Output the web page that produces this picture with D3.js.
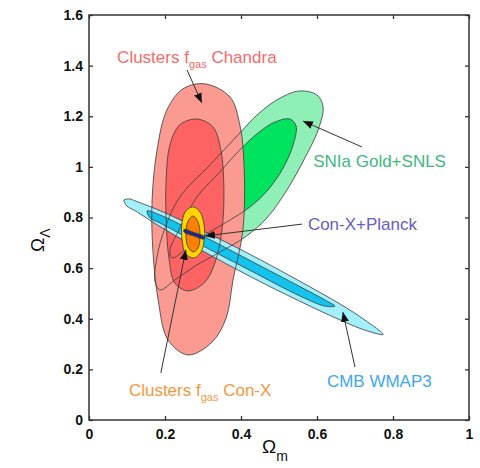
<!DOCTYPE html>
<html>
<head>
<meta charset="utf-8">
<script src="https://cdn.jsdelivr.net/npm/d3@7"></script>
<style>
body { margin: 0; background: #fff; }
text { font-family: Arial, "Liberation Sans", Helvetica, sans-serif; }
</style>
</head>
<body>
<svg width="480" height="468"></svg>
<script>
// tick values
var xTicks = [0, 0.2, 0.4, 0.6, 0.8, 1];
var yTicks = [0, 0.2, 0.4, 0.6, 0.8, 1, 1.2, 1.4, 1.6];

// confidence contours, [Omega_m, Omega_Lambda]
var snOuter = [[0.555,1.300],[0.600,1.284],[0.616,1.237],[0.603,1.146],[0.568,1.035],[0.521,0.909],
  [0.468,0.798],[0.411,0.723],[0.345,0.664],[0.279,0.608],[0.226,0.553],[0.187,0.514],[0.174,0.545],
  [0.179,0.644],[0.200,0.759],[0.239,0.881],[0.318,1.007],[0.397,1.134],[0.445,1.209],[0.503,1.272]];
var snInner = [[0.529,1.189],[0.545,1.161],[0.537,1.086],[0.511,0.996],[0.471,0.909],[0.424,0.842],
  [0.371,0.790],[0.305,0.731],[0.253,0.672],[0.218,0.640],[0.213,0.672],[0.234,0.743],[0.284,0.881],
  [0.337,0.968],[0.397,1.067],[0.445,1.134],[0.489,1.177]];
var clOuter = [[0.305,1.328],[0.371,1.276],[0.397,1.166],[0.408,1.008],[0.405,0.751],[0.379,0.553],
  [0.361,0.403],[0.324,0.308],[0.261,0.257],[0.208,0.316],[0.182,0.474],[0.168,0.672],[0.166,0.869],
  [0.179,1.067],[0.205,1.225],[0.247,1.308]];
var clInner = [[0.284,1.189],[0.326,1.158],[0.347,1.067],[0.355,0.909],[0.350,0.751],[0.332,0.624],
  [0.305,0.545],[0.261,0.510],[0.226,0.541],[0.211,0.632],[0.203,0.790],[0.203,0.948],[0.213,1.087],
  [0.239,1.166]];
var cmbOuter = [[0.092,0.869],[0.108,0.873],[0.121,0.866],[0.187,0.827],[0.292,0.753],[0.424,0.654],
  [0.555,0.548],[0.661,0.458],[0.726,0.395],[0.774,0.338],[0.726,0.355],[0.661,0.395],[0.555,0.469],
  [0.424,0.567],[0.292,0.674],[0.187,0.764],[0.121,0.827],[0.100,0.845]];
var cmbInner = [[0.153,0.826],[0.187,0.810],[0.292,0.733],[0.424,0.630],[0.555,0.527],[0.621,0.474],
  [0.647,0.450],[0.621,0.450],[0.555,0.490],[0.424,0.591],[0.292,0.694],[0.187,0.778],[0.161,0.798]];
var cxOuter = [[0.274,0.842],[0.292,0.822],[0.303,0.770],[0.303,0.711],[0.295,0.664],[0.276,0.640],
  [0.255,0.656],[0.245,0.711],[0.245,0.782],[0.255,0.826]];
var cxInner = [[0.274,0.806],[0.287,0.782],[0.292,0.731],[0.287,0.680],[0.274,0.664],[0.261,0.683],
  [0.255,0.735],[0.261,0.786]];
var cxPlanck = [[0.250,0.753],[0.276,0.741],[0.303,0.725],[0.303,0.715],[0.276,0.727],[0.250,0.743]];

// annotation labels
var labelMain = ["Clusters f", "SNIa Gold+SNLS", "Con-X+Planck", "CMB WMAP3", "Clusters f"];
var labelSub  = ["gas", "", "", "", "gas"];
var labelTail = [" Chandra", "", "", "", " Con-X"];
var labelPos  = [[0.074,1.41],[0.59,1.0],[0.576,0.75],[0.626,0.13],[0.105,0.095]];
var labelColor = ["#f86a6a", "#3dba7c", "#6a5bc9", "#3ea8f4", "#f8963c"];
var arrowFrom = [[0.258,1.383],[0.718,1.079],[0.561,0.774],[0.700,0.209],[0.189,0.186]];
var arrowTo   = [[0.297,1.252],[0.563,1.181],[0.305,0.727],[0.668,0.427],[0.255,0.672]];

var svg = d3.select("svg");
var x = d3.scaleLinear().domain([0, 1]).range([89, 469]);
var y = d3.scaleLinear().domain([0, 1.6]).range([420, 15]);

var shape = d3.line()
  .x(function(d) { return x(d[0]); })
  .y(function(d) { return y(d[1]); })
  .curve(d3.curveCatmullRomClosed.alpha(0.5));

svg.append("defs").append("marker")
  .attr("id", "head")
  .attr("viewBox", "0 -4 10 8")
  .attr("markerUnits", "userSpaceOnUse")
  .attr("markerWidth", 10)
  .attr("markerHeight", 8)
  .attr("refX", 10)
  .attr("refY", 0)
  .attr("orient", "auto")
  .append("path")
  .attr("d", "M0,-4L10,0L0,4Z")
  .attr("fill", "#111");

var plot = svg.append("g");

// big contours: fills first, outlines on top of everything
var big = [
  [snOuter, "#8ef0b6"], [snInner, "#00e35f"],
  [clOuter, "#fb9a91"], [clInner, "#fd6363"],
  [cmbOuter, "#a2f0fb"], [cmbInner, "#12c3ee"]
];
plot.append("g").selectAll("path")
  .data(big).enter().append("path")
  .attr("d", function(d) { return shape(d[0]); })
  .attr("fill", function(d) { return d[1]; });
plot.append("g").selectAll("path")
  .data(big).enter().append("path")
  .attr("d", function(d) { return shape(d[0]); })
  .attr("fill", "none")
  .attr("stroke", "#3a3a3a")
  .attr("stroke-width", 0.8);

var conx = [[cxOuter, "#ffd400"], [cxInner, "#ff7f00"], [cxPlanck, "#1b2a8c"]];
plot.append("g").selectAll("path")
  .data(conx).enter().append("path")
  .attr("d", function(d) { return shape(d[0]); })
  .attr("fill", function(d) { return d[1]; })
  .attr("stroke", "#3a3a3a")
  .attr("stroke-width", 0.8);

// arrows
plot.append("g").selectAll("line")
  .data(arrowFrom).enter().append("line")
  .attr("x1", function(d) { return x(d[0]); })
  .attr("y1", function(d) { return y(d[1]); })
  .attr("x2", function(d, i) { return x(arrowTo[i][0]); })
  .attr("y2", function(d, i) { return y(arrowTo[i][1]); })
  .attr("stroke", "#333")
  .attr("stroke-width", 1)
  .attr("marker-end", "url(#head)");

// labels
var lab = plot.append("g").selectAll("text")
  .data(labelMain).enter().append("text")
  .attr("x", function(d, i) { return x(labelPos[i][0]); })
  .attr("y", function(d, i) { return y(labelPos[i][1]); })
  .attr("fill", function(d, i) { return labelColor[i]; })
  .attr("font-size", 17);
lab.append("tspan").text(function(d) { return d; });
lab.append("tspan")
  .attr("font-size", 11)
  .attr("dy", function(d, i) { return labelSub[i] ? 5 : 0; })
  .text(function(d, i) { return labelSub[i]; });
lab.append("tspan")
  .attr("dy", function(d, i) { return labelSub[i] ? -5 : 0; })
  .text(function(d, i) { return labelTail[i]; });

// axes with inward ticks on every side
var fmt = d3.format("");
var axB = svg.append("g").attr("transform", "translate(0,420)")
  .call(d3.axisBottom(x).tickValues(xTicks).tickSize(-4).tickSizeOuter(0).tickPadding(9).tickFormat(fmt));
var axL = svg.append("g").attr("transform", "translate(89,0)")
  .call(d3.axisLeft(y).tickValues(yTicks).tickSize(-4).tickSizeOuter(0).tickPadding(6).tickFormat(fmt));
var axT = svg.append("g").attr("transform", "translate(0,15)")
  .call(d3.axisTop(x).tickValues(xTicks).tickSize(-4).tickSizeOuter(0).tickFormat(""));
var axR = svg.append("g").attr("transform", "translate(469,0)")
  .call(d3.axisRight(y).tickValues(yTicks).tickSize(-4).tickSizeOuter(0).tickFormat(""));

[axB, axL, axT, axR].forEach(function(a) {
  a.selectAll(".domain").remove();
  a.selectAll(".tick line").attr("stroke", "#333").attr("stroke-width", 1.3);
  a.selectAll("text")
    .attr("font-family", "Arial, 'Liberation Sans', sans-serif")
    .attr("font-size", 14)
    .attr("font-weight", "bold")
    .attr("fill", "#111");
});

svg.append("rect")
  .attr("x", x(0)).attr("y", y(1.6))
  .attr("width", x(1) - x(0)).attr("height", y(0) - y(1.6))
  .attr("fill", "none")
  .attr("stroke", "#333")
  .attr("stroke-width", 1.5);

// axis titles
var xt = svg.append("text")
  .attr("x", 262).attr("y", 453)
  .attr("font-size", 19)
  .attr("fill", "#111");
xt.append("tspan").text("\u03A9");
xt.append("tspan").attr("font-size", 14).attr("dy", 8).text("m");

var yt = svg.append("text")
  .attr("transform", "translate(44,252) rotate(-90)")
  .attr("font-size", 19)
  .attr("fill", "#111");
yt.append("tspan").text("\u03A9");
yt.append("tspan").attr("font-size", 14).attr("dy", 6).text("\u039B");
</script>
</body>
</html>
